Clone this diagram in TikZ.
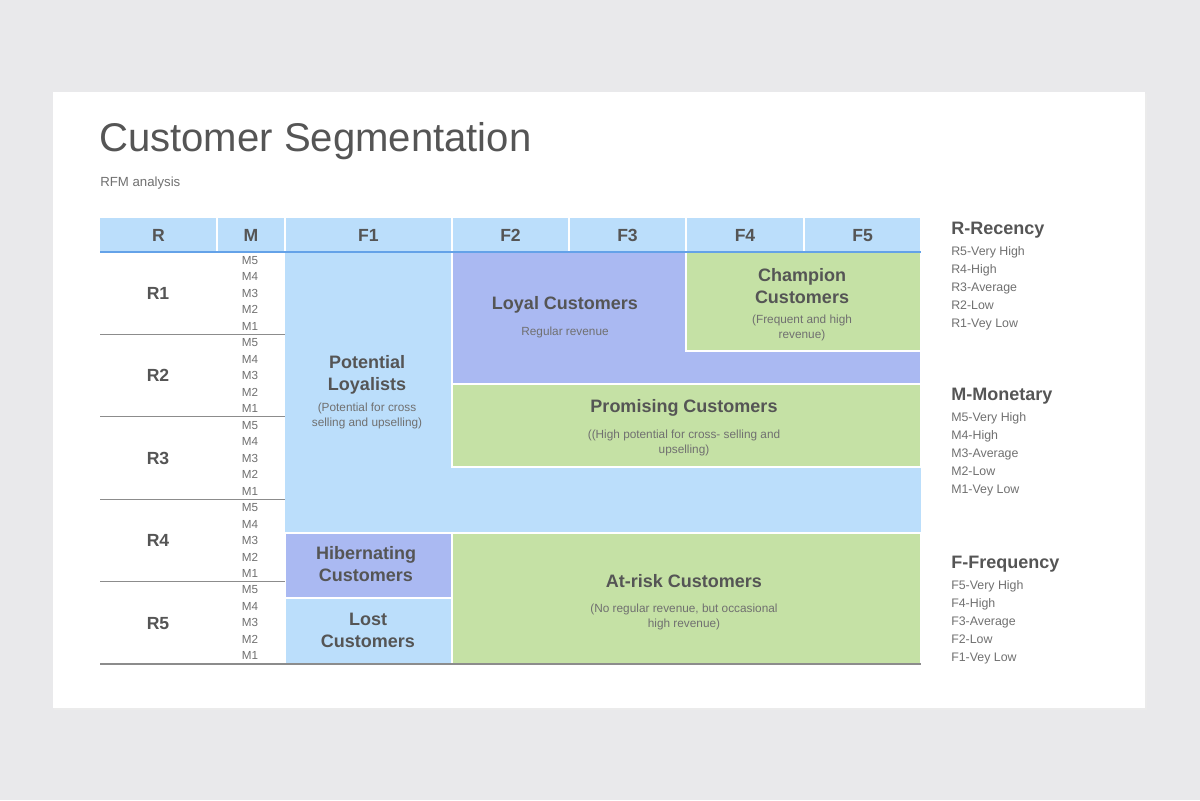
\documentclass[tikz,border=0pt]{standalone}
\usepackage{fontspec}
\setmainfont{Liberation Sans}
\usetikzlibrary{positioning}

\definecolor{pagebg}{HTML}{E9E9EB}
\definecolor{skyblue}{HTML}{BBDEFB}
\definecolor{lilac}{HTML}{AAB9F2}
\definecolor{leaf}{HTML}{C5E1A5}
\definecolor{ink}{HTML}{555555}
\definecolor{softink}{HTML}{707070}
\definecolor{bluerule}{HTML}{64A2E8}
\definecolor{greyrule}{HTML}{8C8C8C}

\tikzset{
  colhead/.style={anchor=base, font=\bfseries\fontsize{12.5}{14}\selectfont, text=ink},
  rowhead/.style={anchor=base, font=\bfseries\fontsize{12.5}{14}\selectfont, text=ink},
  mtag/.style={anchor=base, font=\fontsize{8.3}{9}\selectfont, text=softink},
  segname/.style={align=center, font=\bfseries\fontsize{12.8}{15.6}\selectfont, text=ink},
  segnote/.style={align=center, font=\fontsize{8.4}{10.7}\selectfont, text=softink},
  block/.style={draw=white, line width=1pt},
  keyhead/.style={anchor=base west, font=\bfseries\fontsize{12.8}{14}\selectfont, text=ink},
  keyitem/.style={anchor=base west, font=\fontsize{8.8}{10}\selectfont, text=softink}
}

\begin{document}
\begin{tikzpicture}[x=0.025cm, y=-0.025cm, inner sep=0pt]

    %page and card
    \fill[pagebg] (0,0) rectangle (1200,800);
    \useasboundingbox (0,0) rectangle (1200,800);
    \fill[black!8] (54,94) rectangle (1147,710);
    \fill[white] (53,92) rectangle (1145,708);

    %title
    \node[anchor=base west, font=\fontsize{28.5}{30}\selectfont, text=ink] (title) at (99,152) {Customer Segmentation};
    \node[anchor=base west, font=\fontsize{9.4}{11}\selectfont, text=softink] (subtitle) at (100,187) {RFM analysis};

    %header row
    \fill[skyblue] (100,218) rectangle (921,252);
    \foreach \xa/\xb/\lab in {100/217/R, 217/285/M, 285/452/F1, 452/569/F2, 569/686/F3, 686/804/F4, 804/921/F5}{
        \node[colhead] (col\lab) at ({(\xa+\xb)/2},241.5) {\lab};
        \draw[white, line width=1pt] (\xb,218) -- (\xb,252);
    }

    %segment blocks
    \fill[skyblue] (285,252) rectangle (921,533);
    \filldraw[block, fill=lilac] (452,252) rectangle (921,384);
    \filldraw[block, fill=leaf] (686,252) rectangle (921,351);
    \filldraw[block, fill=leaf] (452,384) rectangle (921,467);
    \filldraw[block, fill=lilac] (285,533) rectangle (452,598);
    \filldraw[block, fill=skyblue] (285,598) rectangle (452,664);
    \filldraw[block, fill=leaf] (452,533) rectangle (921,664);
    \draw[bluerule, line width=1.3pt] (100,252) -- (921,252);

    %rows R1..R5 with M5..M1
    \foreach \r in {1,...,5}{
        \pgfmathsetmacro{\ytop}{252+(\r-1)*82.4}
        \node[rowhead] (row\r) at (158,{\ytop+47.5}) {R\r};
        \foreach \m in {5,4,3,2,1}{
            \node[mtag] (m\r\m) at (250,{\ytop+12.3+(5-\m)*16.5}) {M\m};
        }
    }
    \foreach \y in {334.4, 416.8, 499.2, 581.6}{
        \draw[greyrule, line width=0.9pt] (100,\y) -- (285,\y);
    }
    \draw[greyrule, line width=1pt] (100,664) -- (921,664);

    %segment labels
    \node[segname] (potential) at (367,375) {Potential\\Loyalists};
    \node[segnote, below=6pt of potential] (potentialnote) {(Potential for cross\\selling and upselling)};
    \node[segname] (loyal) at (565,305) {Loyal Customers};
    \node[segnote, below=9pt of loyal] (loyalnote) {Regular revenue};
    \node[segname] (champion) at (802,286) {Champion\\Customers};
    \node[segnote, below=7.5pt of champion] (championnote) {(Frequent and high\\revenue)};
    \node[segname] (promising) at (684,408) {Promising Customers};
    \node[segnote, below=9pt of promising] (promisingnote) {((High potential for cross- selling and\\upselling)};
    \node[segname] (hibernating) at (366,564) {Hibernating\\Customers};
    \node[segname] (lost) at (368,630) {Lost\\Customers};
    \node[segname] (atrisk) at (684,581) {At-risk Customers};
    \node[segnote, below=11pt of atrisk] (atrisknote) {(No regular revenue, but occasional\\high revenue)};

    %legend
    \foreach \ky/\key/\name/\lname in {228/R/Recency/rec, 394/M/Monetary/mon, 562/F/Frequency/freq}{
        \node[keyhead] (\lname) at (951,{\ky+6.5}) {\key-\name};
        \foreach \lvl/\txt [count=\i] in {5/Very High, 4/High, 3/Average, 2/Low, 1/Vey Low}{
            \node[keyitem] (\lname\lvl) at (951,{\ky+9.5+\i*18}) {\key\lvl-\txt};
        }
    }

\end{tikzpicture}
\end{document}
